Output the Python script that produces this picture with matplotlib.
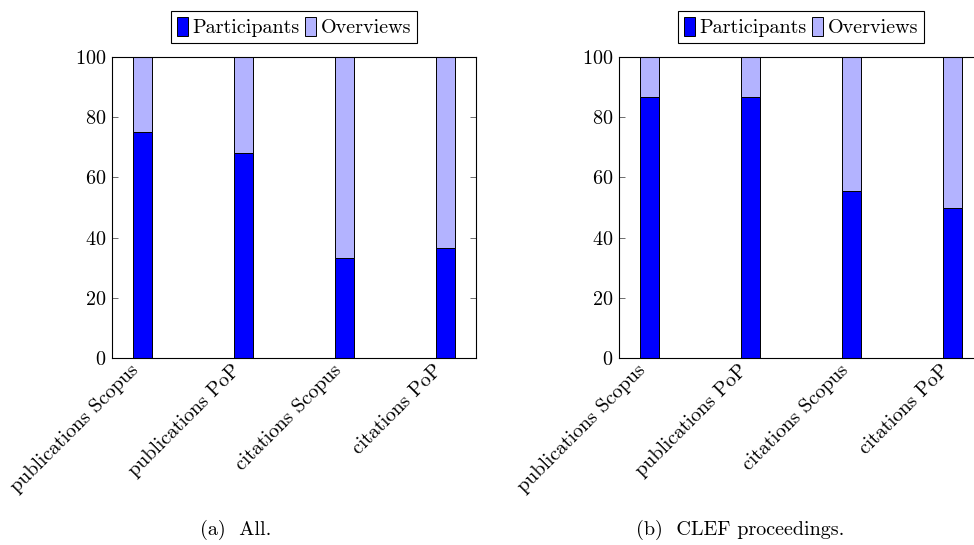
import matplotlib
matplotlib.use("Agg")
import matplotlib.pyplot as plt
import numpy as np
from matplotlib.patches import Patch

categories = ["publications Scopus", "publications PoP", "citations Scopus", "citations PoP"]
participants_all = [75.0, 68.0, 33.3, 36.5]
participants_clef = [86.8, 86.8, 55.6, 50.0]
captions = ["(a)  All.", "(b)  CLEF proceedings."]

BLUE = "#0000FF"
LIGHT = "#B3B3FF"

plt.rcParams["font.family"] = "cmr10"
plt.rcParams["mathtext.fontset"] = "cm"
plt.rcParams["axes.formatter.use_mathtext"] = True
plt.rcParams["font.size"] = 14.5

fig = plt.figure(figsize=(9.74, 5.45), dpi=100)
W, H = 974, 545
ax_w, ax_h = 364, 301
lefts = [112, 619]
top = 57

x = np.arange(len(categories))
for left, part, cap, cap_x in zip(lefts, [participants_all, participants_clef], captions, [236, 740]):
    ax = fig.add_axes([left / W, 1 - (top + ax_h) / H, ax_w / W, ax_h / H])
    part = np.array(part)
    over = 100 - part
    ax.bar(x, part, width=0.19, color=BLUE, edgecolor="black", linewidth=0.7)
    ax.bar(x, over, bottom=part, width=0.19, color=LIGHT, edgecolor="black", linewidth=0.7)
    ax.set_xlim(-0.3, 3.3)
    ax.set_ylim(0, 100)
    ax.set_yticks([0, 20, 40, 60, 80, 100])
    # labels sit a little left of the bar centre (ticks themselves are hidden)
    ax.set_xticks(x - 0.06)
    ax.set_xticklabels(categories, rotation=45, ha="right", va="center", rotation_mode="anchor")
    ax.tick_params(axis="x", length=0, pad=7)
    ax.tick_params(axis="y", direction="in", length=4, width=0.6, right=True,
                   color="#555555", pad=4)
    for s in ax.spines.values():
        s.set_linewidth(0.8)
    handles = [Patch(facecolor=BLUE, edgecolor="black", linewidth=0.7, label="Participants"),
               Patch(facecolor=LIGHT, edgecolor="black", linewidth=0.7, label="Overviews")]
    ax.legend(handles=handles, loc="lower center", bbox_to_anchor=(0.5, 1.045), ncol=2,
              handlelength=0.55, handleheight=1.1, handletextpad=0.2, columnspacing=0.3,
              borderpad=0.3, fancybox=False, edgecolor="black", framealpha=1,
              borderaxespad=0)
    ax.get_legend().get_frame().set_linewidth(0.8)
    fig.text(cap_x / W, 1 - 530 / H, cap, ha="center", va="center", fontsize=14.5)

fig.savefig("out.png", dpi=100)
